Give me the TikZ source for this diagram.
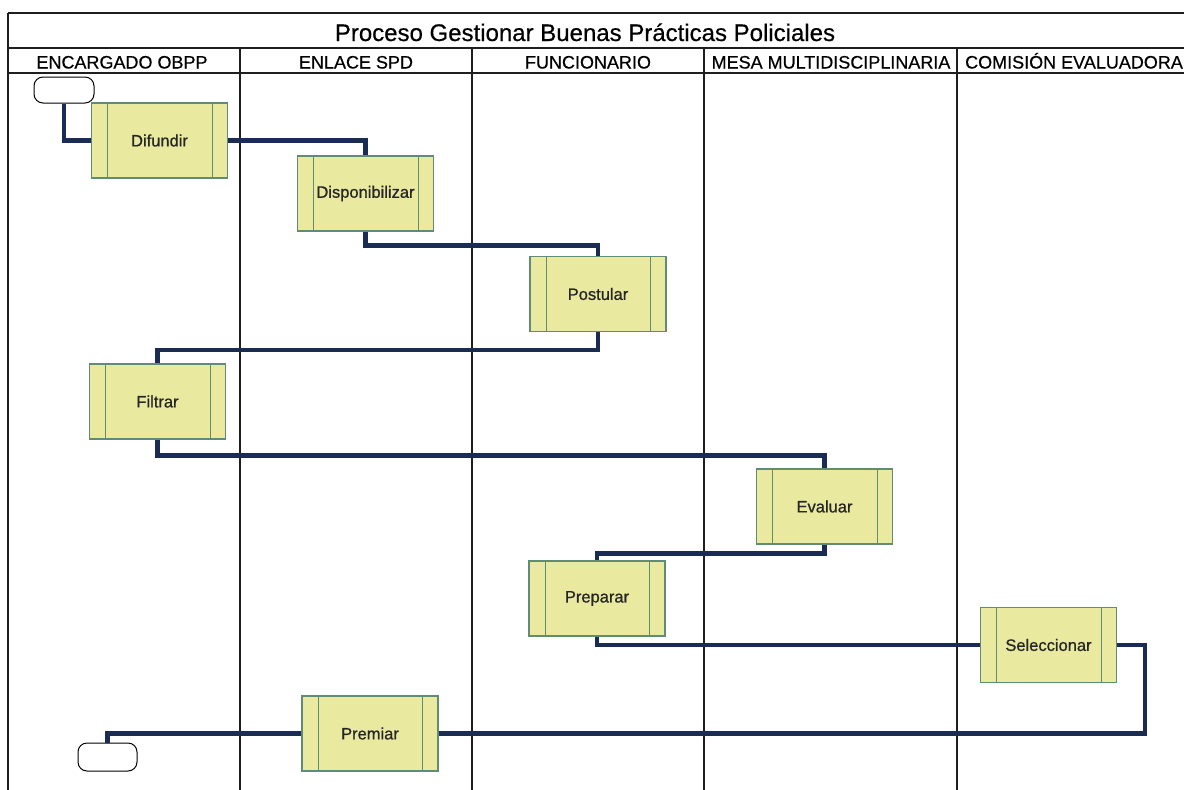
\documentclass[tikz,border=0pt]{standalone}
\usepackage{fontspec}
\setmainfont{Liberation Sans}
\newfontfamily\lblfont[FakeBold=0.8]{Liberation Sans}
\newfontfamily\hdrfont[FakeBold=0.5]{Liberation Sans}
\definecolor{boxfill}{RGB}{233,233,160}
\definecolor{boxedge}{RGB}{96,140,118}
\definecolor{flowblue}{RGB}{26,44,84}
\definecolor{framecol}{RGB}{30,30,30}
\begin{document}
\begin{tikzpicture}[x=1pt,y=-1pt,
  proc/.style={draw=boxedge,fill=boxfill,line width=1.2pt,minimum width=136pt,minimum height=75pt,inner sep=0pt,font=\lblfont\fontsize{16.5}{16.5}\selectfont,text=black!85},
  term/.style={draw=black,fill=white,rounded corners=9pt,line width=1pt,inner sep=0pt},
  flow/.style={draw=flowblue,line width=4.5pt,line join=miter},
  framel/.style={draw=framecol,line width=1.3pt},
  head/.style={font=\hdrfont\fontsize{18}{18}\selectfont,inner sep=0pt,anchor=base},
  strip/.style={draw=boxedge,line width=1pt}]
\useasboundingbox (0,0) rectangle (1184,790);
\fill[white] (0,0) rectangle (1184,790);
% frame
\draw[framel] (8,13) -- (1186,13);
\draw[framel] (8,13) -- (8,792);
\draw[framel,line width=1.8pt] (8,48) -- (1186,48);
\draw[framel,line width=1.8pt] (8,73) -- (1186,73);
\foreach \xx in {240,472,704,957} {\draw[framel] (\xx,48) -- (\xx,792);}
% title and headers
\node[font=\hdrfont\fontsize{24}{24}\selectfont,inner sep=0pt,anchor=base] (title) at (585,41) {Proceso Gestionar Buenas Prácticas Policiales};
\node[head] (h1) at (122,68.5) {ENCARGADO OBPP};
\node[head] (h2) at (356,68.5) {ENLACE SPD};
\node[head] (h3) at (588,68.5) {FUNCIONARIO};
\node[head] (h4) at (831,68.5) {MESA MULTIDISCIPLINARIA};
\node[head] (h5) at (1074,68.5) {COMISIÓN EVALUADORA};
% nodes
\node[term,minimum width=60pt,minimum height=26pt] (start) at (64,90) {};
\node[term,minimum width=59pt,minimum height=28pt] (end) at (107.5,757) {};
\node[proc] (dif) at (159.5,140.5) {Difundir};
\node[proc] (disp) at (365.5,193.5) {Disponibilizar};
\node[proc] (post) at (598,294) {Postular};
\node[proc] (filt) at (157.5,401.5) {Filtrar};
\node[proc] (eval) at (824.5,506.5) {Evaluar};
\node[proc] (prep) at (597,598.5) {Preparar};
\node[proc] (sel) at (1048.5,645) {Seleccionar};
\node[proc] (prem) at (370,733.5) {Premiar};
\foreach \n in {dif,disp,post,filt,eval,prep,sel,prem} {
  \draw[strip] ([xshift=17pt]\n.north west) -- ([xshift=17pt]\n.south west);
  \draw[strip] ([xshift=-16pt]\n.north east) -- ([xshift=-16pt]\n.south east);
}
\coordinate (selturn) at (1145,645);
% connectors
\draw[flow] (start.south) |- (dif.west);
\draw[flow] (dif.east) -| (disp.north);
\draw[flow] (disp.south) -- ++(0,14) -| (post.north);
\draw[flow] (post.south) -- ++(0,18) -| (filt.north);
\draw[flow] (filt.south) -- ++(0,16) -| (eval.north);
\draw[flow] (eval.south) -- ++(0,9) -| (prep.north);
\draw[flow] (prep.south) |- (sel.west);
\draw[flow] (sel.east) -- (selturn) |- (prem.east);
\draw[flow] (prem.west) -| (end.north);
\end{tikzpicture}
\end{document}
